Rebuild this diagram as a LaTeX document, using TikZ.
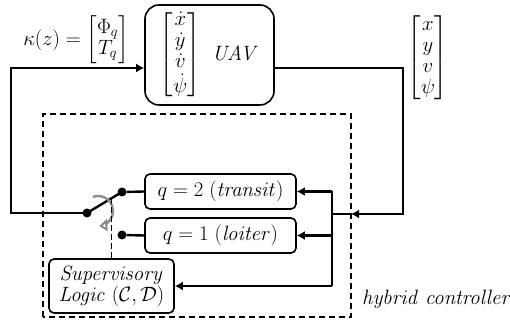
\documentclass[tikz,border=0pt]{standalone}
\usepackage{amsmath}
\usepackage{amssymb}
\usepackage{tikz}
\usepackage{xcolor}
\usetikzlibrary{arrows.meta,calc}
\definecolor{hcgrey}{HTML}{8C8C8C}
\tikzset{
  blk/.style      = {draw, rounded corners=14pt, line width=1.6pt, align=center,
                     inner sep=0pt, minimum width=129pt, minimum height=100pt},
  mode/.style     = {draw, rounded corners=5pt, line width=1.6pt, align=center,
                     inner sep=2pt, minimum width=151pt, minimum height=35pt},
  logic/.style    = {mode, minimum width=125pt, minimum height=54pt},
  swdot/.style    = {circle, fill=black, minimum size=9pt, inner sep=0pt},
  %
  wire/.style     = {draw=black, line width=2.4pt},
  flow/.style     = {wire, -{Latex[length=8pt,width=9pt]}},
  ctl/.style      = {draw=black, line width=1.5pt, dashed, dash pattern=on 6pt off 3pt},
  turn/.style     = {draw=hcgrey, line width=2.4pt,
                     -{Triangle[open, fill=white, length=8pt, width=12pt]}},
  boundary/.style = {draw=black, line width=1.5pt, dashed, dash pattern=on 6pt off 4pt},
  lbl/.style      = {inner sep=1pt, align=center},
}

\begin{document}
\begin{tikzpicture}[x=1pt, y=1pt, font=\fontsize{20}{21}\selectfont]
  \useasboundingbox (0,0) rectangle (510,320);
  \renewcommand{\arraystretch}{1.0}
  \delimitershortfall=9pt

  % ---- plant ------------------------------------------------------------
  \node[blk] (uav) at (209.5,265)
    {$\begin{bmatrix}\dot x\\ \dot y\\ \dot v\\ \dot\psi\end{bmatrix}\hspace{8pt} \mathit{UAV}$};
  \node[lbl] (kap) at (76,280)
    {$\kappa(z) = \begin{bmatrix}\Phi_q\\ T_q\end{bmatrix}$};
  \node[lbl] (outv) at (428,262)
    {$\begin{bmatrix}x\\ y\\ v\\ \psi\end{bmatrix}$};

  % ---- hybrid controller ------------------------------------------------
  \node[mode] (q2) at (220.5,128.5) {$q = 2\ (\mathit{transit})$};
  \node[mode] (q1) at (220.5,84.5)  {$q = 1\ (\mathit{loiter})$};
  \node[logic] (sup) at (111.5,34)
    {$\mathit{Supervisory}$\\ $\mathit{Logic}\ (\mathcal{C},\mathcal{D})$};

  \node[swdot] (piv) at (87,107)  {};
  \node[swdot] (up)  at (122,128) {};
  \node[swdot] (dn)  at (122,85)  {};

  \coordinate (hcsw) at (43,3);
  \coordinate (hcne) at (351,206);
  \draw[boundary] (hcsw) rectangle (hcne);
  \node[lbl, anchor=west] (hclbl) at (361,21) {$\mathit{hybrid\ controller}$};

  % ---- loop corners -----------------------------------------------------
  \coordinate (uavin)  at ([yshift=-13pt]uav.west);
  \coordinate (uavout) at ([yshift=-13pt]uav.east);
  \coordinate (lc)     at (11,252);
  \coordinate (rc)     at (403,106);
  \coordinate (inpt)   at (351,106);
  \coordinate (bus)    at (332,106);
  \coordinate (armpt)  at ($(piv)!0.686!(up)$);
  \coordinate (swc)    at (98,109);

  % ---- connectors -------------------------------------------------------
  \draw[flow] (piv.center) -| (lc) -- (uavin);
  \draw[flow] (uavout) -| (rc) -- (inpt);
  \draw[wire] (inpt) -- (bus);
  \draw[wire] (bus |- q2.east) -- (bus |- sup.east);
  \draw[flow] (bus |- q2.east) -- (q2.east);
  \draw[flow] (bus |- q1.east) -- (q1.east);
  \draw[flow] (bus |- sup.east) -- (sup.east);

  \draw[wire] (piv.center) -- (up.center);
  \draw[wire] (up) -- (q2.west);
  \draw[wire] (dn) -- (q1.west);
  \draw[turn] ([shift={(110:15pt)}]swc) arc[start angle=110, end angle=-85, radius=15pt];
  \draw[ctl] (sup.north) -- (sup.north |- armpt);

\end{tikzpicture}
\end{document}
